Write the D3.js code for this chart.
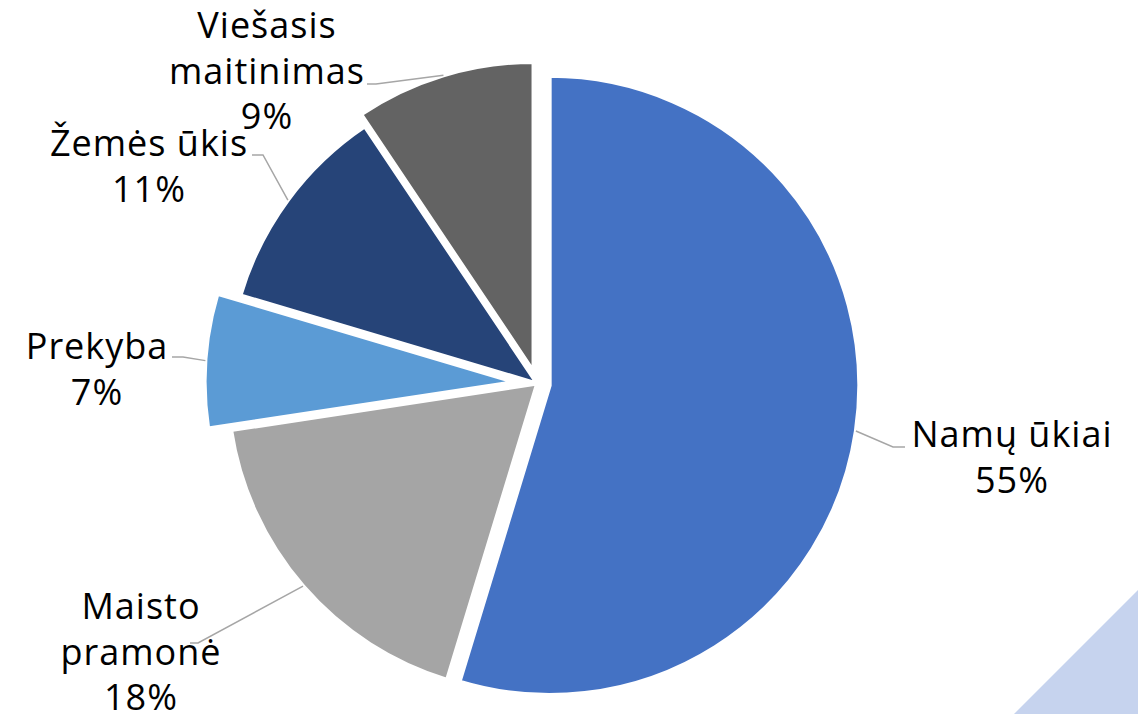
<!DOCTYPE html>
<html>
<head>
<meta charset="utf-8">
<script src="https://cdn.jsdelivr.net/npm/d3@7"></script>
<style>
  body { margin: 0; background: #fff; }
  #chart text { font-family: "Century Gothic", "Open Sans", sans-serif; }
</style>
</head>
<body>
<div id="chart"></div>
<script>
// Pie data (shares, labels show rounded percents)
const categories = ['Namų ūkiai', 'Maisto pramonė', 'Prekyba', 'Žemės ūkis', 'Viešasis maitinimas'];
const labelLines = [['Namų ūkiai'], ['Maisto', 'pramonė'], ['Prekyba'], ['Žemės ūkis'], ['Viešasis', 'maitinimas']];
const shares = [54.7, 17.9, 7.0, 11.0, 9.4];

// Styling / layout
const colors = ['#4472C4', '#A5A5A5', '#5B9BD5', '#264478', '#636363'];
const explode = [12.6, 0, 23, 0, 12.6];
const labelPos = [
    { x: 1012, y: 447, elbow: [893, 447], end: [905, 447] },
    { x: 141, y: 619, elbow: [198, 643], end: [190, 643] },
    { x: 97, y: 359, elbow: [183, 357], end: [172, 357] },
    { x: 149, y: 156, elbow: [263, 155], end: [252, 155] },
    { x: 267, y: 38, elbow: [376, 84], end: [367, 84] }
];

const width = 1138, height = 714;
const cx = 537.2, cy = 383.6, radius = 309.6;
const lineGap = 45.5;

const svg = d3.select('#chart')
    .append('svg')
    .attr('width', width)
    .attr('height', height);

// background decoration (slide corner triangle)
svg.append('polygon')
    .attr('points', `${width - 124},${height} ${width},${height - 124} ${width},${height}`)
    .attr('fill', '#C6D3EE');

const pie = d3.pie().sort(null).value(d => d);
const arcs = pie(shares);
const arc = d3.arc().innerRadius(0).outerRadius(radius);
const total = d3.sum(shares);

const g = svg.append('g').attr('transform', `translate(${cx},${cy})`);

const offset = (a, i) => {
    const mid = (a.startAngle + a.endAngle) / 2;
    return [Math.sin(mid) * explode[i], -Math.cos(mid) * explode[i]];
};

// slices
g.selectAll('path.slice')
    .data(arcs)
    .enter()
    .append('path')
    .attr('class', 'slice')
    .attr('transform', (d, i) => `translate(${offset(d, i)})`)
    .attr('d', arc)
    .attr('fill', (d, i) => colors[i])
    .attr('stroke', '#fff')
    .attr('stroke-width', 4)
    .attr('stroke-linejoin', 'miter');

// leader lines
const line = d3.line();
arcs.forEach((a, i) => {
    const mid = (a.startAngle + a.endAngle) / 2;
    const [ox, oy] = offset(a, i);
    const sx = cx + ox + Math.sin(mid) * radius;
    const sy = cy + oy - Math.cos(mid) * radius;
    const p = labelPos[i];
    svg.append('path')
        .attr('d', line([[sx, sy], p.elbow, p.end]))
        .attr('fill', 'none')
        .attr('stroke', '#A6A6A6')
        .attr('stroke-width', 1.5);
});

// labels
arcs.forEach((a, i) => {
    const p = labelPos[i];
    const lines = labelLines[i].concat([Math.round(shares[i] / total * 100) + '%']);
    const t = svg.append('text')
        .attr('x', p.x)
        .attr('y', p.y)
        .attr('text-anchor', 'middle')
        .attr('fill', '#000')
        .style('font-size', '36px')
        .style('letter-spacing', '1px');
    lines.forEach((s, k) => {
        t.append('tspan')
            .attr('x', p.x)
            .attr('y', p.y + k * lineGap)
            .text(s);
    });
});
</script>
</body>
</html>
